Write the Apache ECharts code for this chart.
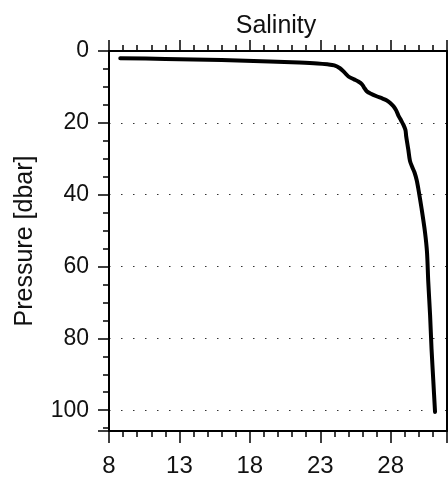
<!DOCTYPE html>
<html><head><meta charset="utf-8">
<script src="https://cdn.jsdelivr.net/npm/echarts@6/dist/echarts.min.js"></script>
<style>html,body{margin:0;padding:0;background:#fff}#c{width:448px;height:478px}</style>
</head><body><div id="c"></div>
<script>
const titleText = "Salinity";
const yName = "Pressure [dbar]";
const salinity = [8.8, 12.0, 16.0, 19.4, 21.5, 22.8, 23.5, 24.0, 24.4, 24.7, 25.0, 25.4, 25.7, 25.95, 26.1, 26.3, 26.6, 27.0, 27.4, 27.7, 27.95, 28.2, 28.4, 28.55, 28.75, 28.9, 29.05, 29.1, 29.25, 29.37, 29.55, 29.7, 29.85, 29.97, 30.2, 30.44, 30.58, 30.67, 30.8, 30.9, 31.03, 31.15];
const pressure = [2.0, 2.2, 2.5, 2.9, 3.2, 3.45, 3.7, 4.0, 4.8, 5.9, 7.1, 7.9, 8.5, 9.2, 10.1, 11.2, 11.9, 12.6, 13.2, 13.7, 14.4, 15.4, 16.6, 18.0, 19.4, 20.5, 22.0, 23.7, 27.4, 30.6, 32.5, 33.9, 36.0, 38.5, 44.0, 50.5, 56.0, 64.3, 73.6, 82.8, 92.0, 100.5];

const font = "'Liberation Sans', Arial, sans-serif";
const chart = echarts.init(document.getElementById('c'), null, {renderer:'canvas'});
const pts = salinity.map((s,i)=>[s, pressure[i]]);
const tickStyle = {color:'#000', width:1.5};
chart.setOption({
  animation:false,
  title:{text:titleText, left:271, top:9, textAlign:'center',
    textStyle:{fontFamily:font, fontSize:25, fontWeight:'normal', color:'#111'}},
  grid:{left:109, right:1, top:51, bottom:45},
  xAxis:[{
    type:'value', position:'bottom', min:8, max:32, interval:5,
    axisLine:{onZero:false, lineStyle:{color:'#000', width:2}},
    axisTick:{show:true, inside:false, length:12, lineStyle:tickStyle},
    minorTick:{show:true, splitNumber:5, length:6, lineStyle:tickStyle},
    axisLabel:{margin:23, fontFamily:font, fontSize:24, color:'#111', showMaxLabel:false},
    splitLine:{show:false}
  },{
    type:'value', position:'top', min:8, max:32, interval:5,
    axisLine:{onZero:false, lineStyle:{color:'#000', width:2}},
    axisTick:{show:true, inside:false, length:11, lineStyle:tickStyle},
    minorTick:{show:true, splitNumber:5, length:6, lineStyle:tickStyle},
    axisLabel:{show:false}, splitLine:{show:false}
  }],
  yAxis:[{
    type:'value', inverse:true, min:0, max:105.8, interval:20, position:'left',
    name:yName, nameLocation:'middle', nameGap:71,
    nameTextStyle:{fontFamily:font, fontSize:25, color:'#111'},
    axisLine:{onZero:false, lineStyle:{color:'#000', width:2}},
    axisTick:{show:true, inside:false, length:11, lineStyle:tickStyle},
    minorTick:{show:true, splitNumber:4, length:6, lineStyle:tickStyle},
    axisLabel:{margin:20, fontFamily:font, fontSize:23, color:'#111', showMaxLabel:false},
    splitLine:{show:true, showMinLine:false, showMaxLine:false, lineStyle:{color:'#333', width:1, type:[1.5,10.5]}}
  },{
    type:'value', inverse:true, min:0, max:105.8, position:'right',
    axisLine:{show:true, onZero:false, lineStyle:{color:'#000', width:2}},
    axisTick:{show:false}, axisLabel:{show:false}, splitLine:{show:false}
  }],
  series:[{
    type:'line', xAxisIndex:0, yAxisIndex:0, data:pts, showSymbol:false,
    lineStyle:{color:'#000', width:4, join:'round', cap:'round'}, smooth:0.3
  }]
});
</script></body></html>
